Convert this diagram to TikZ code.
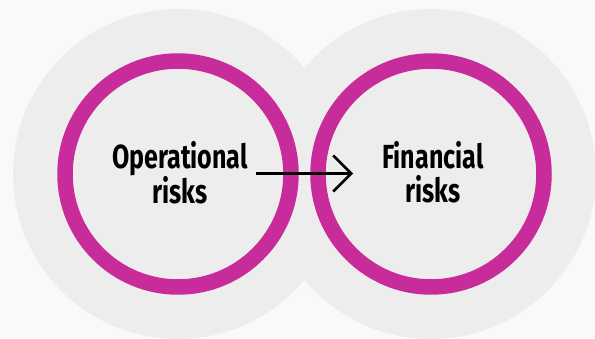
\documentclass[tikz,border=0pt]{standalone}
\usepackage{fontspec}
\newfontfamily\labelfont{Fira Sans}[FakeStretch=0.75]
\usetikzlibrary{arrows.meta}
\definecolor{pagebg}{HTML}{F9F9F9}
\definecolor{halo}{HTML}{EDEDED}
\definecolor{ringmag}{HTML}{C82C9A}
\tikzset{
  halodisc/.style={circle, fill=halo, minimum size=330pt, inner sep=0pt},
  ringnode/.style={circle, draw=ringmag, line width=15.5pt, minimum size=226pt, inner sep=0pt},
  label text/.style={align=center, font=\labelfont\bfseries\fontsize{33.4}{34}\selectfont, inner sep=0pt},
  flow/.style={line width=2.5pt, -{Straight Barb[length=18pt, width=36pt, line width=2.5pt]}}
}
\begin{document}
\begin{tikzpicture}[x=1pt, y=1pt]
  \fill[pagebg] (0,0) rectangle (595,338);
  \useasboundingbox (0,0) rectangle (595,338);
  % soft discs behind each ring
  \node[halodisc] (haloL) at (178,164) {};
  \node[halodisc] (haloR) at (431,164) {};
  % magenta rings
  \node[ringnode] (opring) at (178,164) {};
  \node[ringnode] (finring) at (431,164) {};
  % labels
  \node[label text] (op) at (180,165.5) {Operational\\risks};
  \node[label text] (fin) at (433,165.5) {Financial\\risks};
  % arrow between the two risk types
  \coordinate (flowstart) at (256,164.5);
  \coordinate (flowend) at (353,164.5);
  \draw[flow] (flowstart) -- (flowend);
\end{tikzpicture}
\end{document}
